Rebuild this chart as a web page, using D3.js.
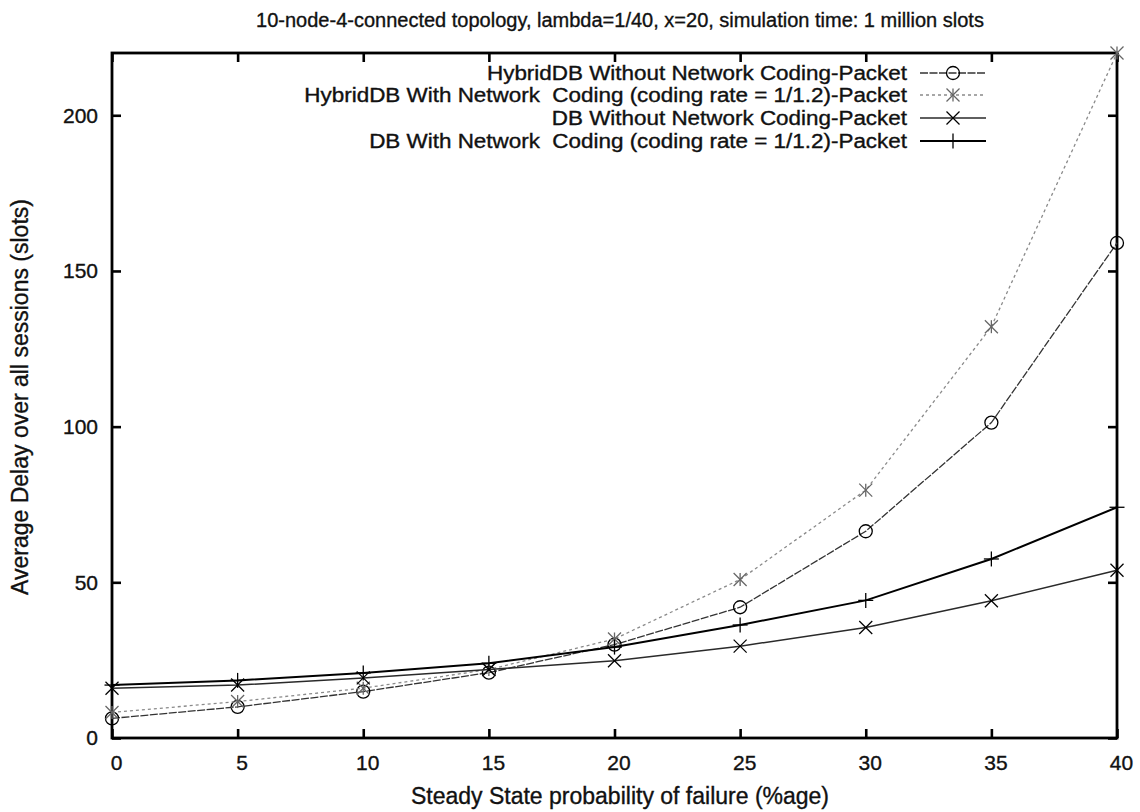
<!DOCTYPE html>
<html>
<head>
<meta charset="utf-8">
<script src="https://cdn.jsdelivr.net/npm/d3@7"></script>
<style>
  html, body { margin: 0; padding: 0; background: #fff; }
  svg text { font-family: "Liberation Sans", Arial, Helvetica, sans-serif; fill: #111; white-space: pre; }
  svg text.heavy { stroke: #111; stroke-width: 0.35px; }
</style>
</head>
<body>
<svg id="chart" width="1140" height="812"></svg>
<script>
// Failure probability (%) on the x axis
const failure = [0, 5, 10, 15, 20, 25, 30, 35, 40];

// Average delay (slots) per scheme
const hybridNoCoding = [6.3, 10, 14.9, 21, 30, 42, 66.4, 101.3, 159];
const hybridCoding   = [8.2, 11.7, 16, 22, 31.8, 50.9, 79.6, 132.1, 220];
const dbNoCoding     = [16, 17, 19.3, 22, 24.8, 29.5, 35.5, 44.1, 53.9];
const dbCoding       = [17, 18.5, 20.9, 24, 29.2, 36.3, 44.2, 57.5, 74.1];

const xTicks = [0, 5, 10, 15, 20, 25, 30, 35, 40];
const yTicks = [0, 50, 100, 150, 200];

const seriesNames = [
  "HybridDB Without Network Coding-Packet",
  "HybridDB With Network  Coding (coding rate = 1/1.2)-Packet",
  "DB Without Network Coding-Packet",
  "DB With Network  Coding (coding rate = 1/1.2)-Packet"
];

const series = [
  { name: seriesNames[0], values: hybridNoCoding, marker: "circle", stroke: "#333", width: 1.3, dash: "8,1.5" },
  { name: seriesNames[1], values: hybridCoding,   marker: "star",   stroke: "#8a8a8a", width: 1.3, dash: "3,3" },
  { name: seriesNames[2], values: dbNoCoding,     marker: "cross",  stroke: "#2a2a2a", width: 1.5, dash: null },
  { name: seriesNames[3], values: dbCoding,       marker: "plus",   stroke: "#000",    width: 2,   dash: null }
];

const svg = d3.select("#chart");
const plotLeft = 112, plotRight = 1117, plotTop = 53, plotBottom = 738;

const x = d3.scaleLinear().domain([0, 40]).range([plotLeft, plotRight]);
const y = d3.scaleLinear().domain([0, 220]).range([plotBottom, plotTop]);

// Title
svg.append("text")
  .attr("class", "heavy")
  .attr("x", 620).attr("y", 27)
  .attr("text-anchor", "middle")
  .style("font-size", "20px")
  .text("10-node-4-connected topology, lambda=1/40, x=20, simulation time: 1 million slots");

// Axis titles
svg.append("text")
  .attr("class", "heavy")
  .attr("x", 620).attr("y", 804)
  .attr("text-anchor", "middle")
  .style("font-size", "23px")
  .text("Steady State probability of failure (%age)");

svg.append("text")
  .attr("class", "heavy")
  .attr("transform", "translate(28,397) rotate(-90)")
  .attr("text-anchor", "middle")
  .style("font-size", "23px")
  .text("Average Delay over all sessions (slots)");

// Axes with inward ticks, mirrored on the opposite sides
const tickLen = 9;
const styleAxis = g => {
  g.selectAll(".domain").remove();
  g.selectAll(".tick line").attr("stroke", "#000").attr("stroke-width", 2.6);
  g.selectAll(".tick text").attr("class", "heavy").style("font-size", "21px").attr("fill", "#111");
};

svg.append("g")
  .attr("transform", `translate(0,${plotBottom})`)
  .call(d3.axisBottom(x).tickValues(xTicks).tickSize(-tickLen).tickPadding(17).tickFormat(d3.format("d")))
  .call(styleAxis)
  .call(g => g.selectAll(".tick text").attr("dx", 4));

svg.append("g")
  .attr("transform", `translate(0,${plotTop})`)
  .call(d3.axisTop(x).tickValues(xTicks).tickSize(-tickLen).tickFormat(""))
  .call(styleAxis);

svg.append("g")
  .attr("transform", `translate(${plotLeft},0)`)
  .call(d3.axisLeft(y).tickValues(yTicks).tickSize(-tickLen).tickPadding(14).tickFormat(d3.format("d")))
  .call(styleAxis);

svg.append("g")
  .attr("transform", `translate(${plotRight},0)`)
  .call(d3.axisRight(y).tickValues(yTicks).tickSize(-tickLen).tickFormat(""))
  .call(styleAxis);

// Frame
svg.append("rect")
  .attr("x", plotLeft).attr("y", plotTop)
  .attr("width", plotRight - plotLeft).attr("height", plotBottom - plotTop)
  .attr("fill", "none").attr("stroke", "#000").attr("stroke-width", 2.8);

// Marker shapes
function drawMarker(g, type, cx, cy, color) {
  const s = 6.5;
  const stroke = { stroke: color === "#8a8a8a" ? "#666" : "#000", "stroke-width": 1.3, fill: "none" };
  const seg = (x1, y1, x2, y2) => {
    const l = g.append("line").attr("x1", x1).attr("y1", y1).attr("x2", x2).attr("y2", y2);
    Object.entries(stroke).forEach(([k, v]) => l.attr(k, v));
  };
  if (type === "circle") {
    const c = g.append("circle").attr("cx", cx).attr("cy", cy).attr("r", 6.5);
    Object.entries(stroke).forEach(([k, v]) => c.attr(k, v));
  } else if (type === "plus") {
    seg(cx - s - 1, cy, cx + s + 1, cy); seg(cx, cy - s - 1, cx, cy + s + 1);
  } else if (type === "cross") {
    seg(cx - s, cy - s, cx + s, cy + s); seg(cx - s, cy + s, cx + s, cy - s);
  } else if (type === "star") {
    seg(cx - s, cy - s, cx + s, cy + s); seg(cx - s, cy + s, cx + s, cy - s);
    seg(cx, cy - s, cx, cy + s);
  }
}

// Series lines and point markers
const line = d3.line().x(d => x(d[0])).y(d => y(d[1]));
series.forEach(s => {
  const pts = failure.map((f, i) => [f, s.values[i]]);
  svg.append("path")
    .datum(pts)
    .attr("d", line)
    .attr("fill", "none")
    .attr("stroke", s.stroke)
    .attr("stroke-width", s.width)
    .attr("stroke-dasharray", s.dash);
  const g = svg.append("g");
  pts.forEach(p => drawMarker(g, s.marker, x(p[0]), y(p[1]), s.stroke));
});

// Legend: entries are right-aligned against the sample lines
const legendRows = [73, 95, 118, 141];
series.forEach((s, i) => {
  const ry = legendRows[i];
  const t = svg.append("text")
    .attr("class", "heavy")
    .attr("x", 907).attr("y", ry + 7)
    .attr("text-anchor", "end")
    .style("font-size", "19.5px")
    .text(s.name);
  // widen the glyphs slightly to the legend's column width
  const w = t.node().getComputedTextLength();
  t.attr("textLength", w * 1.15).attr("lengthAdjust", "spacingAndGlyphs");
  svg.append("line")
    .attr("x1", 920).attr("x2", 986).attr("y1", ry).attr("y2", ry)
    .attr("stroke", s.stroke).attr("stroke-width", s.width)
    .attr("stroke-dasharray", s.dash);
  drawMarker(svg.append("g"), s.marker, 953, ry, s.stroke);
});
</script>
</body>
</html>
